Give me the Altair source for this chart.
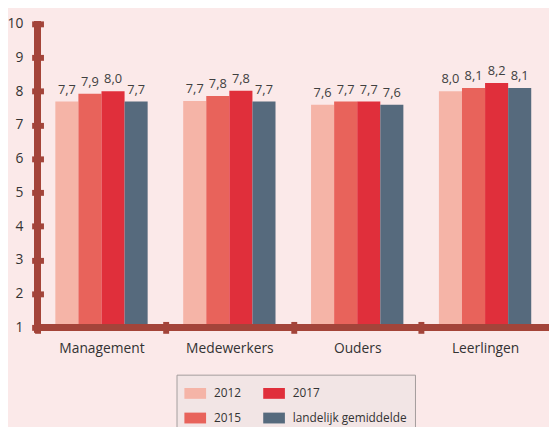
import altair as alt
import pandas as pd

categories = ["Management", "Medewerkers", "Ouders", "Leerlingen"]
series = ["2012", "2015", "2017", "landelijk gemiddelde"]
colors = ["#f5b4a7", "#e8635b", "#e02f3b", "#566a7d"]

values_2012 = [7.7, 7.71, 7.6, 8.0]
values_2015 = [7.93, 7.86, 7.7, 8.1]
values_2017 = [8.0, 8.02, 7.7, 8.25]
values_landelijk = [7.7, 7.7, 7.6, 8.1]

labels_2012 = ["7,7", "7,7", "7,6", "8,0"]
labels_2015 = ["7,9", "7,8", "7,7", "8,1"]
labels_2017 = ["8,0", "7,8", "7,7", "8,2"]
labels_landelijk = ["7,7", "7,7", "7,6", "8,1"]

y_ticks = [1, 2, 3, 4, 5, 6, 7, 8, 9, 10]

rows = []
for s, vals, labs in zip(series,
                         [values_2012, values_2015, values_2017, values_landelijk],
                         [labels_2012, labels_2015, labels_2017, labels_landelijk]):
    for c, v, l in zip(categories, vals, labs):
        rows.append({"categorie": c, "reeks": s, "waarde": v, "label": l})
df = pd.DataFrame(rows)

W, H = 519, 308
AXIS = "#a3443a"
FONT = "Open Sans"
band = W / len(categories)

x_axis = alt.Axis(domain=False, tickSize=12, tickWidth=6, tickColor=AXIS,
                  offset=-6, tickOffset=-band / 2, labelOffset=band / 2,
                  labelPadding=9, labelFontSize=14, labelColor="#333333",
                  labelFont=FONT, labelAngle=0)
y_axis = alt.Axis(values=y_ticks, domain=False, grid=False, tickSize=12, tickWidth=6,
                  tickColor=AXIS, offset=-6, labelPadding=9, labelFontSize=14,
                  labelColor="#333333", labelFont=FONT, labelOverlap=False,
                  labelBound=False, labelFlush=False)
x_scale = alt.Scale(paddingInner=0, paddingOuter=0)
xo_scale = alt.Scale(paddingInner=0, paddingOuter=0.77)
y_scale = alt.Scale(domain=[1, 10], nice=False, zero=False)

x_enc = alt.X("categorie:N", sort=categories, title=None, scale=x_scale, axis=x_axis)
xo_enc = alt.XOffset("reeks:N", sort=series, scale=xo_scale)
y_enc = alt.Y("waarde:Q", title=None, scale=y_scale, axis=y_axis)

base = alt.Chart(df)

bars = base.mark_bar().encode(
    x=x_enc, xOffset=xo_enc, y=y_enc, y2=alt.datum(1),
    color=alt.Color("reeks:N", title=None,
                    scale=alt.Scale(domain=series, range=colors),
                    legend=alt.Legend(orient="none", legendX=141, legendY=356, columns=2,
                                      symbolType="M-1,-0.5L1,-0.5L1,0.5L-1,0.5Z", symbolSize=484,
                                      symbolStrokeWidth=0, labelFontSize=12, labelFont=FONT,
                                      labelColor="#333333", labelOffset=8, columnPadding=22,
                                      rowPadding=8, padding=8, fillColor="#f2e5e5",
                                      strokeColor="#a39c9c")),
)

texts = base.mark_text(baseline="bottom", dy=-5, fontSize=13, font=FONT, color="#404040").encode(
    x=x_enc, xOffset=xo_enc, y=y_enc, text="label:N",
)

y_line = alt.Chart(df).mark_rule(color=AXIS, strokeWidth=6).encode(
    x=alt.value(0), y=alt.value(-3), y2=alt.value(H + 5))
x_line = alt.Chart(df).mark_rule(color=AXIS, strokeWidth=6).encode(
    x=alt.value(0), x2=alt.value(W), y=alt.datum(1, scale=y_scale, axis=y_axis))

chart = alt.layer(bars, texts, y_line, x_line).properties(
    width=W, height=H,
    autosize=alt.AutoSizeParams(type="none"),
    padding={"left": 30, "top": 13, "right": 0, "bottom": 98},
    background="#fbe9e9",
).configure_view(stroke=None)

chart.save("out.html", embed_options={"renderer": "svg", "actions": False})
